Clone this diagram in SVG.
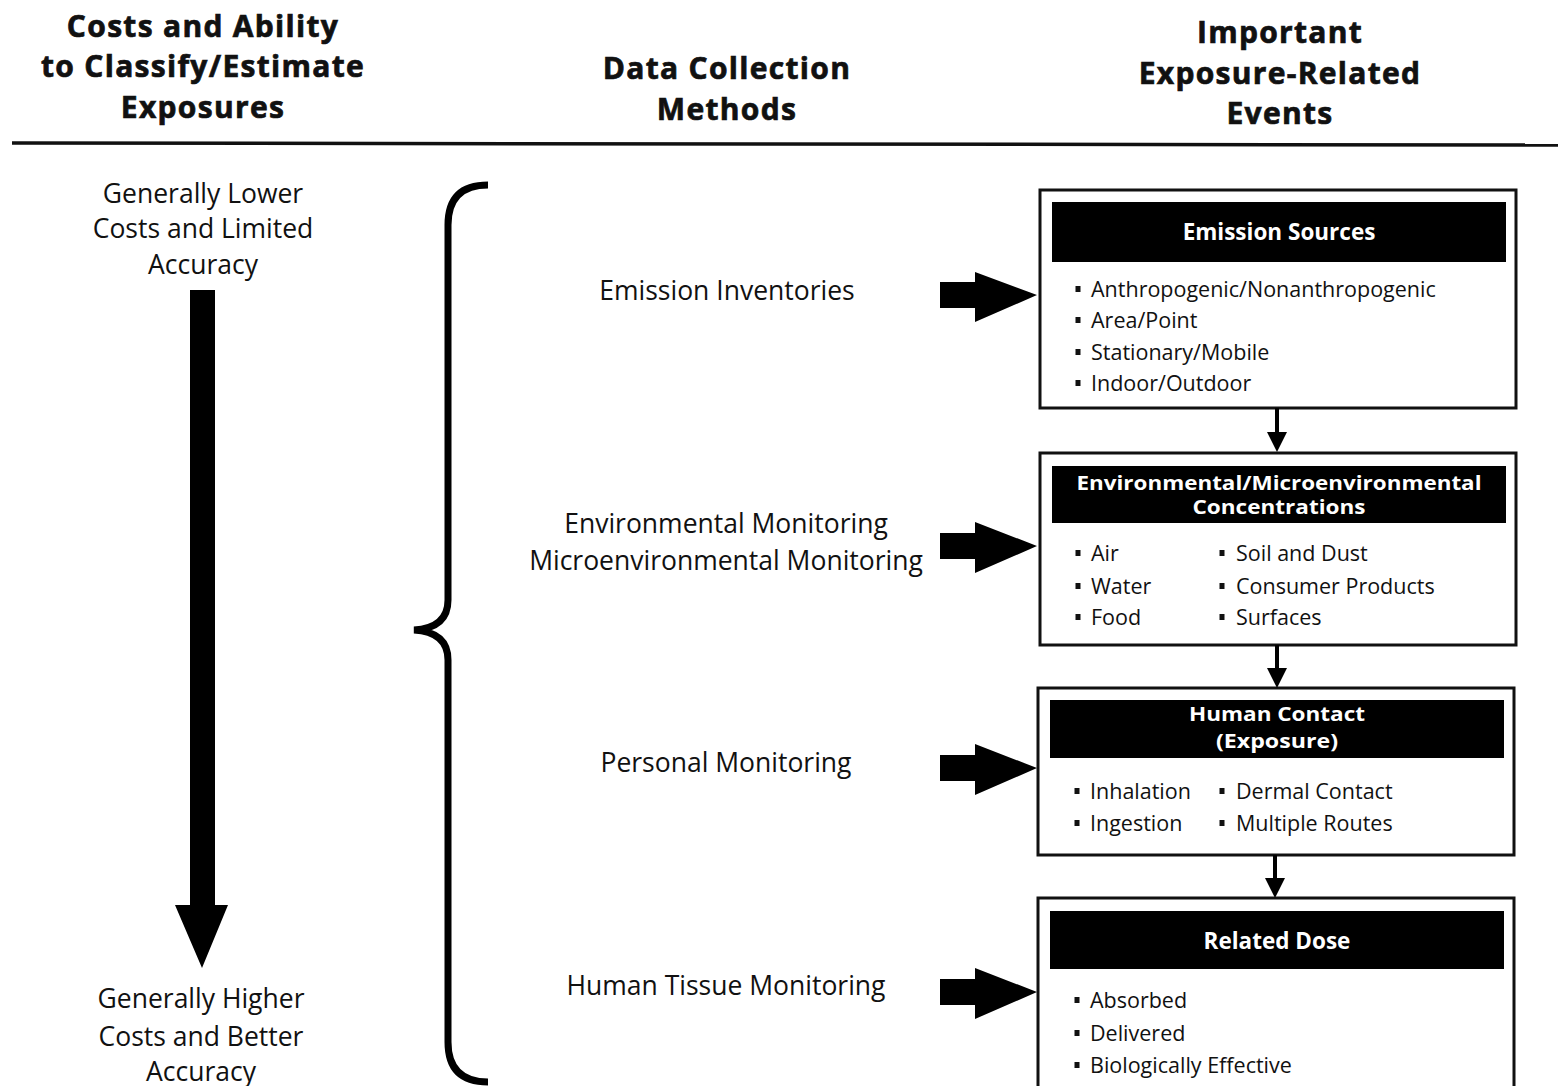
<svg xmlns="http://www.w3.org/2000/svg" width="1558" height="1086" viewBox="0 0 1558 1086">
<style>
.hd{font-family:"Open Sans","Noto Sans",sans-serif;font-weight:bold;font-size:30px;letter-spacing:1.3px;fill:#111;stroke:#111;stroke-width:0.7;text-anchor:middle}
.lb{font-family:"Open Sans","Noto Sans",sans-serif;font-size:26.5px;fill:#111;text-anchor:middle}
.bt{font-family:"Open Sans","Noto Sans",sans-serif;font-weight:bold;font-size:22.5px;fill:#fff;text-anchor:middle}
.bt2{font-family:"Open Sans","Noto Sans",sans-serif;font-weight:bold;font-size:19.5px;fill:#fff;text-anchor:middle}
.it{font-family:"Open Sans","Noto Sans",sans-serif;font-size:21.5px;fill:#111}
.box{fill:#fff;stroke:#111;stroke-width:3}
.bar{fill:#000}
.fat{fill:#000}
.con{stroke:#000;stroke-width:4;fill:none}
</style>
<defs>
<marker id="ah" markerWidth="5" markerHeight="5" refX="4" refY="2.5" orient="auto" markerUnits="strokeWidth">
<path d="M0,0 L5,2.5 L0,5 Z" fill="#000"/>
</marker>
<g id="bul"><rect x="-2.5" y="-3" width="5" height="6" fill="#111"/></g>
</defs>
<rect width="1558" height="1086" fill="#fff"/>

<g id="headers">
<text class="hd" x="203" y="37">Costs and Ability</text>
<text class="hd" x="203" y="77">to Classify/Estimate</text>
<text class="hd" x="203" y="118">Exposures</text>
<text class="hd" x="727" y="79">Data Collection</text>
<text class="hd" x="727" y="120">Methods</text>
<text class="hd" x="1280" y="43">Important</text>
<text class="hd" x="1280" y="84">Exposure-Related</text>
<text class="hd" x="1280" y="124">Events</text>
<line x1="12" y1="143" x2="1558" y2="145" stroke="#111" stroke-width="3.5"/>
</g>

<g id="cost-scale">
<text class="lb" x="203" y="203">Generally Lower</text>
<text class="lb" x="203" y="238">Costs and Limited</text>
<text class="lb" x="203" y="274">Accuracy</text>
<path d="M190,290 H215 V905 H228 L202,968 L175,905 H190 Z" fill="#000"/>
<text class="lb" x="201" y="1008">Generally Higher</text>
<text class="lb" x="201" y="1046">Costs and Better</text>
<text class="lb" x="201" y="1081">Accuracy</text>
</g>

<g id="brace">
<path d="M488,185 Q448,185 448,225 V600 Q448,628 414,630 Q448,632 448,660 V1042 Q448,1082 488,1082" fill="none" stroke="#000" stroke-width="7"/>
</g>

<g id="methods">
<text class="lb" x="727" y="300">Emission Inventories</text>
<text class="lb" x="726" y="533">Environmental Monitoring</text>
<text class="lb" x="726" y="570">Microenvironmental Monitoring</text>
<text class="lb" x="726" y="772">Personal Monitoring</text>
<text class="lb" x="726" y="995">Human Tissue Monitoring</text>
</g>

<g id="emission-sources">
<rect class="box" x="1040" y="190" width="476" height="218"/>
<rect class="bar" x="1052" y="202" width="454" height="60"/>
<text class="bt" x="1279" y="240">Emission Sources</text>
<use href="#bul" x="1078" y="289"/><text class="it" x="1091" y="297">Anthropogenic/Nonanthropogenic</text>
<use href="#bul" x="1078" y="320"/><text class="it" x="1091" y="328">Area/Point</text>
<use href="#bul" x="1078" y="352"/><text class="it" x="1091" y="360">Stationary/Mobile</text>
<use href="#bul" x="1078" y="383"/><text class="it" x="1091" y="391">Indoor/Outdoor</text>
</g>

<g id="concentrations">
<rect class="box" x="1040" y="453" width="476" height="192"/>
<rect class="bar" x="1052" y="466" width="454" height="57"/>
<text class="bt2" x="1279" y="490" textLength="405" lengthAdjust="spacingAndGlyphs">Environmental/Microenvironmental</text>
<text class="bt2" x="1279" y="514" textLength="173" lengthAdjust="spacingAndGlyphs">Concentrations</text>
<use href="#bul" x="1078" y="553"/><text class="it" x="1091" y="561">Air</text>
<use href="#bul" x="1078" y="586"/><text class="it" x="1091" y="594">Water</text>
<use href="#bul" x="1078" y="617"/><text class="it" x="1091" y="625">Food</text>
<use href="#bul" x="1222" y="553"/><text class="it" x="1236" y="561">Soil and Dust</text>
<use href="#bul" x="1222" y="586"/><text class="it" x="1236" y="594">Consumer Products</text>
<use href="#bul" x="1222" y="617"/><text class="it" x="1236" y="625">Surfaces</text>
</g>

<g id="human-contact">
<rect class="box" x="1038" y="688" width="476" height="167"/>
<rect class="bar" x="1050" y="700" width="454" height="58"/>
<text class="bt2" x="1277" y="721" textLength="176" lengthAdjust="spacingAndGlyphs">Human Contact</text>
<text class="bt2" x="1277" y="748" textLength="122" lengthAdjust="spacingAndGlyphs">(Exposure)</text>
<use href="#bul" x="1077" y="791"/><text class="it" x="1090" y="799">Inhalation</text>
<use href="#bul" x="1077" y="823"/><text class="it" x="1090" y="831">Ingestion</text>
<use href="#bul" x="1222" y="791"/><text class="it" x="1236" y="799">Dermal Contact</text>
<use href="#bul" x="1222" y="823"/><text class="it" x="1236" y="831">Multiple Routes</text>
</g>

<g id="related-dose">
<rect class="box" x="1038" y="898" width="476" height="200"/>
<rect class="bar" x="1050" y="911" width="454" height="58"/>
<text class="bt" x="1277" y="949">Related Dose</text>
<use href="#bul" x="1077" y="1000"/><text class="it" x="1090" y="1008">Absorbed</text>
<use href="#bul" x="1077" y="1033"/><text class="it" x="1090" y="1041">Delivered</text>
<use href="#bul" x="1077" y="1065"/><text class="it" x="1090" y="1073">Biologically Effective</text>
</g>

<g id="connectors">
<path class="fat" d="M940,282 H975 V272 L1037,295 L975,322 V308 H940 Z"/>
<path class="fat" d="M940,533 H975 V522 L1037,546 L975,573 V559 H940 Z"/>
<path class="fat" d="M940,755 H975 V744 L1037,768 L975,795 V781 H940 Z"/>
<path class="fat" d="M940,979 H975 V968 L1037,992 L975,1019 V1005 H940 Z"/>
<line class="con" x1="1277" y1="408" x2="1277" y2="448" marker-end="url(#ah)"/>
<line class="con" x1="1277" y1="645" x2="1277" y2="684" marker-end="url(#ah)"/>
<line class="con" x1="1275" y1="855" x2="1275" y2="894" marker-end="url(#ah)"/>
</g>
</svg>
